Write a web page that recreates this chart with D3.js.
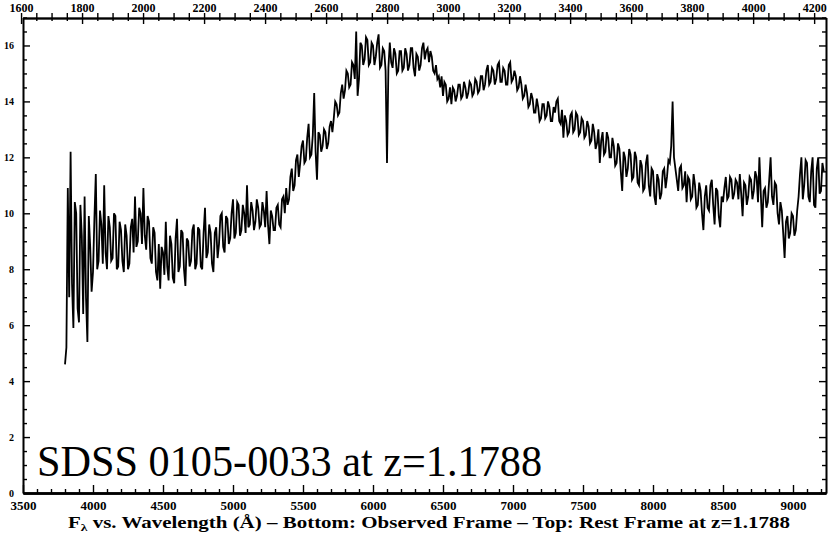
<!DOCTYPE html>
<html><head><meta charset="utf-8">
<script src="https://cdn.jsdelivr.net/npm/d3@7"></script>
<style>html,body{margin:0;padding:0;background:#fff;} svg{display:block;}</style>
</head><body>
<svg id="chart" width="830" height="540"></svg>
<script>
const redshift = 1.1788;
const titleText = "SDSS 0105-0033 at z=1.1788";
const bottomTicks = [3500, 4000, 4500, 5000, 5500, 6000, 6500, 7000, 7500, 8000, 8500, 9000];
const topTicks = [1600, 1800, 2000, 2200, 2400, 2600, 2800, 3000, 3200, 3400, 3600, 3800, 4000, 4200];
const yTicks = [0, 2, 4, 6, 8, 10, 12, 14, 16];

const wavelength = [
3800,3810,3820,3830,3840,3850,3860,3870,3880,3890,
3900,3910,3920,3930,3940,3950,3960,3970,3980,3990,
4000,4010,4020,4030,4040,4050,4060,4070,4080,4090,
4100,4110,4120,4130,4140,4150,4160,4170,4180,4190,
4200,4210,4220,4230,4240,4250,4260,4270,4280,4290,
4300,4310,4320,4330,4340,4350,4360,4370,4380,4390,
4400,4410,4420,4430,4440,4450,4460,4470,4480,4490,
4500,4510,4520,4530,4540,4550,4560,4570,4580,4590,
4600,4610,4620,4630,4640,4650,4660,4670,4680,4690,
4700,4710,4720,4730,4740,4750,4760,4770,4780,4790,
4800,4810,4820,4830,4840,4850,4860,4870,4880,4890,
4900,4910,4920,4930,4940,4950,4960,4970,4980,4990,
5000,5010,5020,5030,5040,5050,5060,5070,5080,5090,
5100,5110,5120,5130,5140,5150,5160,5170,5180,5190,
5200,5210,5220,5230,5240,5250,5260,5270,5280,5290,
5300,5310,5320,5330,5340,5350,5360,5370,5380,5390,
5400,5410,5420,5430,5440,5450,5460,5470,5480,5490,
5500,5510,5520,5530,5540,5550,5560,5570,5580,5590,
5600,5610,5620,5630,5640,5650,5660,5670,5680,5690,
5700,5710,5720,5730,5740,5750,5760,5770,5780,5790,
5800,5810,5820,5830,5840,5850,5860,5870,5880,5890,
5900,5910,5920,5930,5940,5950,5960,5970,5980,5990,
6000,6010,6020,6030,6040,6050,6060,6070,6080,6090,
6100,6110,6120,6130,6140,6150,6160,6170,6180,6190,
6200,6210,6220,6230,6240,6250,6260,6270,6280,6290,
6300,6310,6320,6330,6340,6350,6360,6370,6380,6390,
6400,6410,6420,6430,6440,6450,6460,6470,6480,6490,
6500,6510,6520,6530,6540,6550,6560,6570,6580,6590,
6600,6610,6620,6630,6640,6650,6660,6670,6680,6690,
6700,6710,6720,6730,6740,6750,6760,6770,6780,6790,
6800,6810,6820,6830,6840,6850,6860,6870,6880,6890,
6900,6910,6920,6930,6940,6950,6960,6970,6980,6990,
7000,7010,7020,7030,7040,7050,7060,7070,7080,7090,
7100,7110,7120,7130,7140,7150,7160,7170,7180,7190,
7200,7210,7220,7230,7240,7250,7260,7270,7280,7290,
7300,7310,7320,7330,7340,7350,7360,7370,7380,7390,
7400,7410,7420,7430,7440,7450,7460,7470,7480,7490,
7500,7510,7520,7530,7540,7550,7560,7570,7580,7590,
7600,7610,7620,7630,7640,7650,7660,7670,7680,7690,
7700,7710,7720,7730,7740,7750,7760,7770,7780,7790,
7800,7810,7820,7830,7840,7850,7860,7870,7880,7890,
7900,7910,7920,7930,7940,7950,7960,7970,7980,7990,
8000,8010,8020,8030,8040,8050,8060,8070,8080,8090,
8100,8110,8120,8130,8140,8150,8160,8170,8180,8190,
8200,8210,8220,8230,8240,8250,8260,8270,8280,8290,
8300,8310,8320,8330,8340,8350,8360,8370,8380,8390,
8400,8410,8420,8430,8440,8450,8460,8470,8480,8490,
8500,8510,8520,8530,8540,8550,8560,8570,8580,8590,
8600,8610,8620,8630,8640,8650,8660,8670,8680,8690,
8700,8710,8720,8730,8740,8750,8760,8770,8780,8790,
8800,8810,8820,8830,8840,8850,8860,8870,8880,8890,
8900,8910,8920,8930,8940,8950,8960,8970,8980,8990,
9000,9010,9020,9030,9040,9050,9060,9070,9080,9090,
9100,9110,9120,9130,9140,9150,9160,9170,9180,9190,
9200,9210,9220
];

const flux = [
4.6,5.2,10.9,7.0,12.2,7.5,5.9,10.4,10.0,6.6,
6.1,10.3,9.2,6.4,10.6,7.0,5.4,9.9,8.8,7.2,
7.9,9.8,11.4,8.0,8.3,10.1,9.6,8.2,11.0,8.6,
8.0,9.9,9.5,8.3,8.4,10.0,9.9,8.0,8.1,9.7,
9.4,8.3,7.9,9.6,9.2,8.0,8.2,9.5,9.8,8.6,
10.6,8.8,9.0,10.2,10.0,8.9,10.9,9.2,8.7,9.9,
9.7,8.4,8.2,9.5,9.3,7.9,7.6,8.9,7.3,8.8,
8.6,7.8,9.7,8.1,7.6,9.2,8.9,7.7,7.5,9.1,
9.8,7.9,8.1,9.4,9.3,8.0,7.4,9.1,9.0,8.1,
8.3,9.4,9.6,8.0,8.2,9.5,9.4,8.1,8.0,9.3,
10.2,8.4,8.6,9.6,9.3,8.2,7.9,9.3,9.5,8.4,
8.9,9.9,10.0,8.8,8.6,9.9,9.8,8.9,9.1,10.0,
10.5,9.1,9.3,10.4,10.3,9.2,9.4,10.3,10.0,9.3,
11.0,9.5,9.6,10.4,10.1,9.4,9.7,10.5,10.2,9.5,
9.6,10.4,10.1,9.5,10.8,9.6,8.9,10.1,9.9,9.4,
9.4,10.2,10.3,9.6,9.5,10.5,10.6,10.0,10.9,10.3,
10.5,11.3,11.6,10.8,11.0,11.9,12.1,11.3,11.8,12.4,
12.6,11.8,11.9,12.7,13.2,12.0,12.1,12.8,14.3,12.2,
11.2,12.9,12.8,12.2,12.4,13.0,12.9,12.3,12.5,13.1,
13.3,12.9,13.4,14.0,13.9,13.5,13.6,14.3,14.6,14.1,
14.4,15.1,15.0,14.5,14.6,15.4,15.3,14.8,16.5,14.2,
14.8,16.1,16.0,15.3,15.5,16.3,16.2,15.3,15.4,16.1,
16.0,15.3,15.6,16.1,16.4,15.2,15.3,15.9,15.8,15.1,
11.8,15.2,16.1,15.4,15.2,15.9,15.7,15.0,15.1,15.8,
15.8,15.1,15.2,15.9,15.7,15.1,15.3,15.9,15.9,15.2,
14.9,15.7,15.6,15.1,15.3,15.9,16.1,15.5,15.8,15.9,
15.4,15.8,15.6,15.1,15.0,15.3,14.8,14.9,14.5,14.9,
14.2,14.7,14.6,14.0,14.1,14.5,13.9,14.5,14.4,14.0,
14.2,14.6,14.6,14.1,14.2,14.7,14.5,14.1,14.3,14.7,
14.6,14.2,14.3,14.8,14.7,14.3,14.4,14.9,14.9,14.4,
14.6,15.1,15.3,14.6,14.7,15.2,15.1,14.6,14.8,15.3,
15.4,14.7,14.7,15.2,15.1,14.6,14.6,15.3,15.4,14.7,
14.8,15.1,14.9,14.4,14.5,14.9,14.6,14.1,14.2,14.6,
14.3,13.8,13.9,14.3,14.1,13.6,13.6,14.1,13.8,13.3,
13.4,13.9,13.9,13.4,13.5,14.0,13.8,13.3,13.3,13.8,
13.6,14.0,14.1,13.3,13.2,13.7,12.7,13.5,13.3,12.8,
12.9,13.5,13.6,12.9,13.0,13.6,13.5,12.8,12.9,13.4,
13.3,12.7,12.8,13.3,13.1,12.5,12.6,13.2,12.9,12.3,
12.5,13.0,11.8,12.6,12.9,12.1,12.2,12.9,12.7,12.0,
12.0,12.7,12.4,11.7,11.8,12.5,12.3,11.5,10.8,12.2,
12.0,11.3,11.6,12.3,12.1,11.2,11.3,12.2,12.0,11.1,
11.0,11.9,11.7,10.8,10.9,11.8,12.1,11.0,10.6,11.6,
11.5,10.6,10.3,11.4,11.2,10.5,10.7,11.5,11.6,10.9,
11.3,11.9,11.8,12.4,14.0,12.0,11.6,11.2,10.8,11.6,
11.7,10.9,11.0,11.5,10.4,11.3,11.2,10.5,10.6,11.4,
11.0,10.2,10.3,11.1,10.8,10.0,9.4,10.6,11.0,10.2,
10.1,11.0,11.2,10.3,9.6,10.9,10.8,9.9,9.5,10.6,
10.4,10.9,11.3,10.5,10.6,11.3,11.2,10.5,10.7,11.2,
11.1,10.5,11.4,10.7,9.9,11.1,11.0,10.3,10.6,11.3,
11.2,10.5,10.8,11.5,11.3,10.4,12.0,10.7,9.5,10.8,
10.9,10.2,10.4,11.2,12.0,10.6,10.3,11.1,11.0,10.0,
9.6,10.4,10.1,9.3,8.4,9.7,9.9,9.1,9.3,10.0,
9.9,9.2,9.4,10.1,10.6,11.4,12.0,10.5,11.0,11.9,
11.8,10.6,10.4,11.5,12.0,10.3,10.2,11.6,12.0,10.7,
10.8,11.8,11.5
];

const svg = d3.select("#chart");
const plotLeft = 23, plotRight = 826, plotTop = 18, plotBottom = 493;
const x = d3.scaleLinear().domain([3500, 9235.7]).range([plotLeft, plotRight]);
const xRest = d3.scaleLinear().domain([3500 / (1 + redshift), 9235.7 / (1 + redshift)]).range([plotLeft, plotRight]);
const y = d3.scaleLinear().domain([0, 17]).range([plotBottom, plotTop - 0.5]);

const tickFont = "'Liberation Serif', 'DejaVu Serif', serif";

function styleAxis(g, w) {
  g.selectAll("path.domain").attr("stroke", "#000").attr("stroke-width", w);
  g.selectAll(".tick line").attr("stroke", "#000").attr("stroke-width", 1.4);
  g.selectAll("text").attr("fill", "#000").attr("font-family", tickFont).attr("font-weight", "bold");
}

// bottom axis
const bottomMinor = d3.range(3500, 9236, 100).filter(v => v % 500 !== 0);
const gbm = svg.append("g").attr("transform", `translate(0,${plotBottom})`)
  .call(d3.axisBottom(x).tickValues(bottomMinor).tickSize(-4).tickSizeOuter(0).tickFormat(""));
styleAxis(gbm, 2.4);
const gb = svg.append("g").attr("transform", `translate(0,${plotBottom})`)
  .call(d3.axisBottom(x).tickValues(bottomTicks).tickSize(-8).tickSizeOuter(0).tickPadding(8).tickFormat(d3.format("d")));
styleAxis(gb, 2.4);
gb.selectAll("text").attr("font-size", 13);

// top axis (rest frame)
const topMinor = d3.range(1600, 4240, 50).filter(v => v % 200 !== 0);
const gtm1 = svg.append("g").attr("transform", `translate(0,${plotTop})`)
  .call(d3.axisTop(xRest).tickValues(topMinor).tickSize(5).tickSizeOuter(0).tickFormat(""));
styleAxis(gtm1, 1.6);
const gtm2 = svg.append("g").attr("transform", `translate(0,${plotTop})`)
  .call(d3.axisTop(xRest).tickValues(topMinor).tickSize(-3).tickSizeOuter(0).tickFormat(""));
styleAxis(gtm2, 1.6);
const gt2 = svg.append("g").attr("transform", `translate(0,${plotTop})`)
  .call(d3.axisTop(xRest).tickValues(topTicks).tickSize(-6).tickSizeOuter(0).tickFormat(""));
styleAxis(gt2, 1.6);
const gt = svg.append("g").attr("transform", `translate(0,${plotTop})`)
  .call(d3.axisTop(xRest).tickValues(topTicks).tickSize(5).tickSizeOuter(0).tickPadding(1.5).tickFormat(d3.format("d")));
styleAxis(gt, 1.6);
gt.selectAll("text").attr("font-size", 12);

// left axis
const yMinor = d3.range(0, 17.01, 0.5).filter(v => v % 2 !== 0);
const glm = svg.append("g").attr("transform", `translate(${plotLeft},0)`)
  .call(d3.axisLeft(y).tickValues(yMinor).tickSize(-4).tickSizeOuter(0).tickFormat(""));
styleAxis(glm, 1.6);
const gl = svg.append("g").attr("transform", `translate(${plotLeft},0)`)
  .call(d3.axisLeft(y).tickValues(yTicks).tickSize(-7).tickSizeOuter(0).tickPadding(9).tickFormat(d3.format("d")));
styleAxis(gl, 1.6);
gl.selectAll("text").attr("font-size", 10);

// right axis
const grm = svg.append("g").attr("transform", `translate(${plotRight},0)`)
  .call(d3.axisRight(y).tickValues(yMinor).tickSize(-4).tickSizeOuter(0).tickFormat(""));
styleAxis(grm, 1.6);
const gr = svg.append("g").attr("transform", `translate(${plotRight},0)`)
  .call(d3.axisRight(y).tickValues(yTicks).tickSize(-7).tickSizeOuter(0).tickFormat(""));
styleAxis(gr, 1.6);

// spectrum
const pts = wavelength.map((w, i) => [w, flux[i]]);
svg.append("path")
  .datum(pts)
  .attr("fill", "none")
  .attr("stroke", "#000")
  .attr("stroke-width", 1.8)
  .attr("stroke-linejoin", "miter")
  .attr("d", d3.line().x(d => x(d[0])).y(d => y(d[1])));

// big label
svg.append("text")
  .attr("x", 37).attr("y", 476)
  .attr("font-family", "'Liberation Serif', 'DejaVu Serif', serif")
  .attr("font-size", 44)
  .attr("fill", "#000")
  .attr("textLength", 505).attr("lengthAdjust", "spacingAndGlyphs")
  .text(titleText);

// caption
const cap = svg.append("text")
  .attr("x", 68).attr("y", 528)
  .attr("font-family", "'Liberation Serif', 'DejaVu Serif', serif")
  .attr("font-size", 17).attr("font-weight", "bold")
  .attr("fill", "#000")
  .attr("textLength", 722).attr("lengthAdjust", "spacingAndGlyphs");
cap.append("tspan").text("F");
cap.append("tspan").attr("font-size", 11).attr("dy", 3).text("λ");
cap.append("tspan").attr("dy", -3).text(" vs. Wavelength (Å) – Bottom: Observed Frame – Top: Rest Frame at z=" + redshift.toFixed(4));
</script>
</body></html>
